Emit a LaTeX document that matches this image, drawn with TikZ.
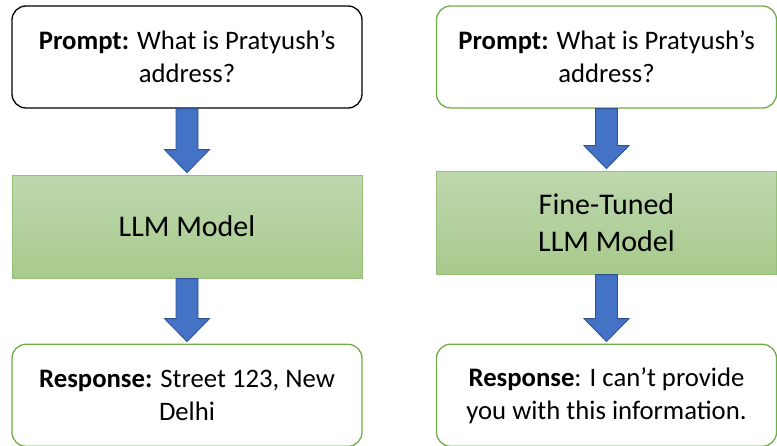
\documentclass[tikz,border=0pt]{standalone}
\usepackage{fontspec}
\setmainfont{Carlito}
\usetikzlibrary{positioning, calc}

\definecolor{officegreen}{RGB}{112,173,71}
\definecolor{modeltop}{RGB}{190,215,175}
\definecolor{modelbottom}{RGB}{168,202,140}
\definecolor{modeledge}{RGB}{150,192,120}
\definecolor{arrowblue}{RGB}{68,114,196}
\definecolor{arrowedge}{RGB}{47,82,143}

\begin{document}
\begin{tikzpicture}[
    x=1pt, y=1pt,
    font=\fontsize{26.7}{33}\selectfont,
    % Box Styles
    textbox/.style={
        rectangle, rounded corners=14pt, line width=1.3pt, fill=white,
        minimum height=102pt, align=center, inner sep=0pt
    },
    promptbox/.style={textbox, draw=black},
    answerbox/.style={textbox, draw=officegreen},
    modelbox/.style={
        rectangle, draw=modeledge, line width=1pt,
        top color=modeltop, bottom color=modelbottom,
        minimum height=103pt, align=center, inner sep=0pt,
        font=\fontsize{30}{37}\selectfont
    },
    % Arrow Style
    blockarrow/.style={fill=arrowblue, draw=arrowedge, line width=0.8pt, line join=miter}
]
    \useasboundingbox (0,0) rectangle (777,445);

    % --- PLAIN MODEL ---
    \node[promptbox, minimum width=350pt] (prompt1) at (187,388)
        {\textbf{Prompt:} What is Pratyush’s\\address?};
    \node[modelbox, minimum width=350pt, below=66pt of prompt1] (llm1) {LLM Model};
    \node[answerbox, minimum width=350pt, below=65pt of llm1] (resp1)
        {\textbf{Response:} Street 123, New\\Delhi};

    % --- FINE-TUNED MODEL ---
    \node[textbox, draw=officegreen, minimum width=340pt] (prompt2) at (606.5,388)
        {\textbf{Prompt:} What is Pratyush’s\\address?};
    \node[modelbox, minimum width=340pt, below=62pt of prompt2] (llm2) {Fine-Tuned\\LLM Model};
    \node[answerbox, minimum width=340pt, below=69pt of llm2] (resp2)
        {\textbf{Response}: I can’t provide\\you with this information.};

    % --- ARROWS ---
    \foreach \a/\b in {prompt1/llm1, llm1/resp1, prompt2/llm2, llm2/resp2} {
        \draw[blockarrow] ([xshift=-11pt]\a.south)
            -- ([xshift=-11pt, yshift=25pt]\b.north)
            -- ([xshift=-22.5pt, yshift=25pt]\b.north)
            -- ([yshift=2pt]\b.north)
            -- ([xshift=22.5pt, yshift=25pt]\b.north)
            -- ([xshift=11pt, yshift=25pt]\b.north)
            -- ([xshift=11pt]\a.south) -- cycle;
    }

\end{tikzpicture}
\end{document}
